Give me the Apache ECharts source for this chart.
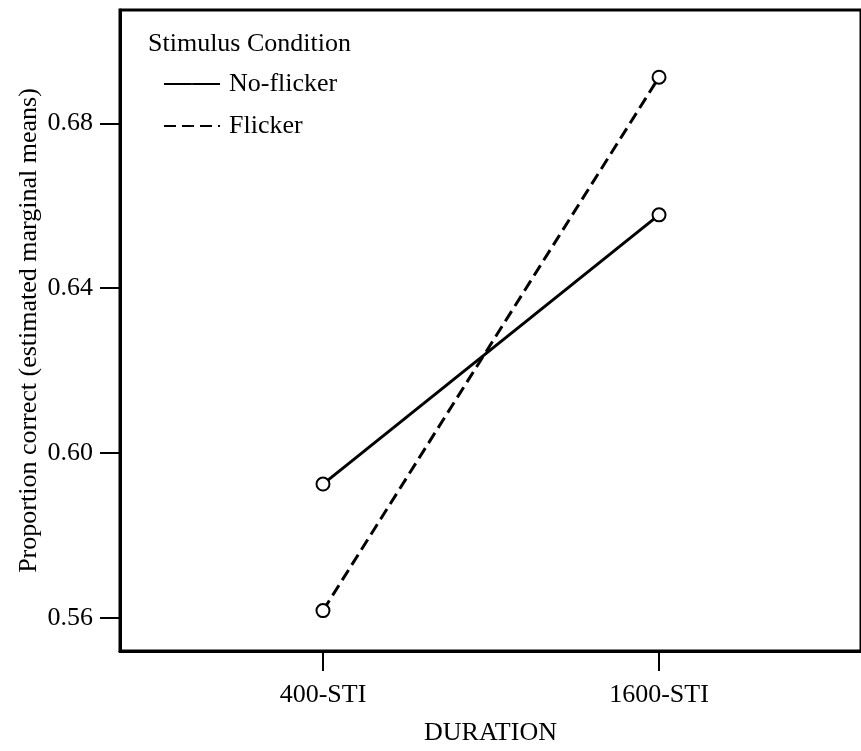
<!DOCTYPE html>
<html>
<head>
<meta charset="utf-8">
<script src="https://cdn.jsdelivr.net/npm/echarts@6/dist/echarts.min.js"></script>
<style>
html,body{margin:0;padding:0;background:#fff;}
#chart{width:861px;height:751px;}
</style>
</head>
<body>
<div id="chart"></div>
<script>
// ---- data ----
var categories = ['400-STI', '1600-STI'];
var seriesNames = ['No-flicker', 'Flicker'];
var noFlicker = [0.5925, 0.6578];
var flicker = [0.5618, 0.6912];
var yTicks = [0.56, 0.60, 0.64, 0.68];
var legendTitle = 'Stimulus Condition';
var xName = 'DURATION';
var yName = 'Proportion correct (estimated marginal means)';

var FONT = '"Liberation Serif", "Times New Roman", serif';
function pairs(vals) { return vals.map(function (v, i) { return [i, v]; }); }

var chart = echarts.init(document.getElementById('chart'), null, {renderer: 'canvas'});
chart.setOption({
  animation: false,
  backgroundColor: '#fff',
  title: {
    text: legendTitle,
    left: 148, top: 31, padding: 0,
    textStyle: {fontFamily: FONT, fontSize: 26, fontWeight: 'normal', color: '#000'}
  },
  legend: {
    orient: 'vertical',
    left: 163, top: 71, padding: 0,
    itemWidth: 56, itemHeight: 1, itemGap: 16,
    data: seriesNames,
    textStyle: {fontFamily: FONT, fontSize: 26, color: '#000', padding: [0, 0, 0, 4]},
    itemStyle: {color: 'transparent', borderWidth: 0}
  },
  grid: {
    left: 120, top: 10, right: -4, bottom: 97,
    show: true, borderColor: '#000', borderWidth: 3, backgroundColor: 'transparent'
  },
  xAxis: {
    type: 'value',
    min: -0.604, max: 1.601,
    name: xName, nameLocation: 'middle', nameGap: 69,
    nameTextStyle: {fontFamily: FONT, fontSize: 26, color: '#000'},
    axisLine: {show: true, onZero: false, lineStyle: {color: '#000', width: 3}},
    axisTick: {show: true, length: 20, lineStyle: {color: '#000', width: 2}, customValues: [0, 1]},
    axisLabel: {
      customValues: [0, 1], margin: 31,
      fontFamily: FONT, fontSize: 26, color: '#000',
      formatter: function (v) { return categories[Math.round(v)]; }
    },
    splitLine: {show: false}
  },
  yAxis: {
    type: 'value',
    min: 0.552, max: 0.7075,
    name: yName, nameLocation: 'middle', nameGap: 78, nameMoveOverlap: false,
    nameTextStyle: {fontFamily: FONT, fontSize: 26, color: '#000'},
    axisLine: {show: true, onZero: false, lineStyle: {color: '#000', width: 3}},
    axisTick: {show: true, length: 20, lineStyle: {color: '#000', width: 2}, customValues: yTicks},
    axisLabel: {
      customValues: yTicks, margin: 27,
      fontFamily: FONT, fontSize: 26, color: '#000',
      formatter: function (v) { return v.toFixed(2); }
    },
    splitLine: {show: false}
  },
  series: [
    {
      name: seriesNames[0], type: 'line', data: pairs(noFlicker),
      symbol: 'emptyCircle', symbolSize: 13,
      lineStyle: {color: '#000', width: 3, type: 'solid'},
      itemStyle: {color: '#000', borderColor: '#000', borderWidth: 3.5}
    },
    {
      name: seriesNames[1], type: 'line', data: pairs(flicker),
      symbol: 'emptyCircle', symbolSize: 13,
      lineStyle: {color: '#000', width: 3, type: [12, 6]},
      itemStyle: {color: '#000', borderColor: '#000', borderWidth: 3.5}
    }
  ]
});
</script>
</body>
</html>
